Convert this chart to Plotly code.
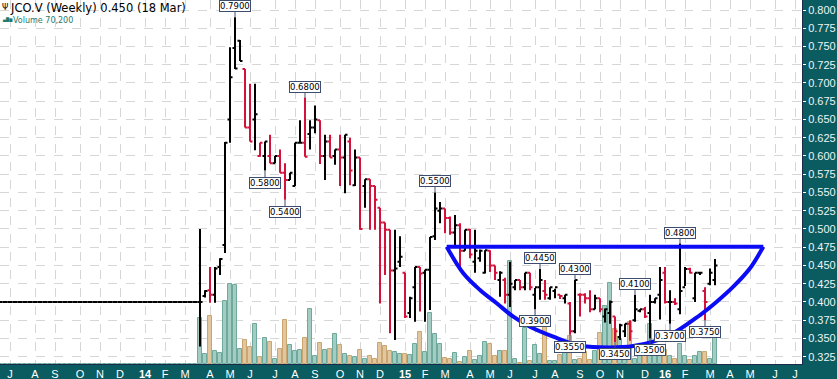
import datetime as dt
import plotly.graph_objects as go

# ---------------- data ----------------
# week index 0 = week of Monday 1 Jul 2013; pre-listing weeks are flat at 0.400
first_week = -2
flat_price = 0.400
n_flat = 40

opens = [0.400, 0.408, 0.416, 0.410, 0.448, 0.478, 0.650, 0.748, 0.758, 0.719,
         0.639, 0.650, 0.600, 0.600, 0.600, 0.590, 0.600, 0.577, 0.567, 0.559,
         0.618, 0.618, 0.630, 0.639, 0.649, 0.600, 0.620, 0.600, 0.609, 0.598,
         0.620, 0.560, 0.598, 0.559, 0.568, 0.559, 0.529, 0.509, 0.499, 0.443,
         0.455, 0.440, 0.385, 0.420, 0.448, 0.440, 0.444, 0.490, 0.525, 0.528,
         0.515, 0.495, 0.505, 0.470, 0.499, 0.455, 0.460, 0.440, 0.470, 0.450,
         0.430, 0.430, 0.410, 0.420, 0.430, 0.420, 0.440, 0.410, 0.420, 0.415,
         0.405, 0.415, 0.410, 0.405, 0.398, 0.360, 0.410, 0.410, 0.405, 0.390,
         0.405, 0.380, 0.385, 0.380, 0.352, 0.360, 0.370, 0.375, 0.388, 0.390,
         0.385, 0.400, 0.410, 0.440, 0.400, 0.400, 0.390, 0.420, 0.445, 0.405,
         0.440, 0.415, 0.425, 0.430]
highs = [0.500, 0.416, 0.448, 0.448, 0.460, 0.619, 0.749, 0.790, 0.759, 0.719,
         0.699, 0.699, 0.618, 0.620, 0.629, 0.600, 0.609, 0.590, 0.577, 0.618,
         0.649, 0.680, 0.649, 0.669, 0.649, 0.629, 0.629, 0.609, 0.629, 0.629,
         0.625, 0.609, 0.598, 0.568, 0.568, 0.559, 0.529, 0.509, 0.499, 0.499,
         0.490, 0.440, 0.407, 0.448, 0.448, 0.444, 0.489, 0.550, 0.537, 0.528,
         0.517, 0.519, 0.508, 0.499, 0.500, 0.499, 0.472, 0.471, 0.471, 0.450,
         0.442, 0.433, 0.455, 0.430, 0.430, 0.440, 0.440, 0.419, 0.445, 0.430,
         0.420, 0.418, 0.410, 0.410, 0.400, 0.430, 0.412, 0.412, 0.416, 0.410,
         0.405, 0.391, 0.402, 0.380, 0.370, 0.370, 0.375, 0.410, 0.390, 0.393,
         0.410, 0.405, 0.448, 0.448, 0.416, 0.405, 0.480, 0.448, 0.447, 0.440,
         0.440, 0.420, 0.446, 0.459]
lows = [0.339, 0.406, 0.399, 0.399, 0.437, 0.467, 0.618, 0.719, 0.730, 0.639,
        0.620, 0.608, 0.599, 0.580, 0.590, 0.590, 0.577, 0.540, 0.567, 0.559,
        0.618, 0.599, 0.609, 0.631, 0.589, 0.567, 0.598, 0.588, 0.559, 0.549,
        0.560, 0.559, 0.499, 0.529, 0.499, 0.499, 0.398, 0.437, 0.357, 0.348,
        0.448, 0.378, 0.378, 0.373, 0.387, 0.373, 0.389, 0.485, 0.508, 0.494,
        0.492, 0.476, 0.448, 0.470, 0.460, 0.440, 0.455, 0.439, 0.441, 0.430,
        0.407, 0.398, 0.393, 0.416, 0.416, 0.416, 0.416, 0.390, 0.403, 0.403,
        0.403, 0.405, 0.404, 0.398, 0.355, 0.357, 0.380, 0.398, 0.386, 0.390,
        0.386, 0.372, 0.370, 0.345, 0.348, 0.352, 0.347, 0.373, 0.386, 0.378,
        0.350, 0.398, 0.376, 0.398, 0.370, 0.396, 0.383, 0.422, 0.439, 0.400,
        0.437, 0.375, 0.423, 0.423]
closes = [0.400, 0.415, 0.410, 0.446, 0.459, 0.618, 0.708, 0.720, 0.730, 0.639,
          0.620, 0.657, 0.618, 0.620, 0.590, 0.600, 0.577, 0.567, 0.577, 0.618,
          0.618, 0.599, 0.639, 0.650, 0.600, 0.620, 0.598, 0.609, 0.598, 0.629,
          0.580, 0.598, 0.500, 0.568, 0.559, 0.540, 0.509, 0.499, 0.443, 0.446,
          0.462, 0.380, 0.405, 0.448, 0.439, 0.444, 0.489, 0.528, 0.528, 0.515,
          0.495, 0.505, 0.470, 0.499, 0.465, 0.470, 0.470, 0.471, 0.450, 0.440,
          0.440, 0.410, 0.425, 0.430, 0.420, 0.440, 0.420, 0.420, 0.430, 0.410,
          0.420, 0.420, 0.408, 0.410, 0.360, 0.430, 0.410, 0.405, 0.390, 0.405,
          0.390, 0.390, 0.400, 0.360, 0.368, 0.370, 0.360, 0.390, 0.390, 0.380,
          0.400, 0.405, 0.430, 0.400, 0.400, 0.398, 0.415, 0.445, 0.440, 0.440,
          0.440, 0.400, 0.440, 0.450]
volumes = [110600, 24200, 116200, 31500, 26600, 151700, 192900, 191200, 35600, 57400,
           40400, 96100, 16200, 62200, 52500, 12100, 35600, 105800, 46000, 31500,
           33200, 62200, 133100, 18600, 50100, 33200, 35600, 71900, 46000, 24200,
           18600, 17700, 33200, 12100, 19400, 12100, 50800, 44300, 31500, 28300,
           24900, 24200, 22500, 47700, 77400, 28300, 123400, 72600, 48400, 14500,
           12100, 26600, 4800, 16900, 30700, 10400, 18600, 52500, 48400, 18600,
           30700, 30700, 249300, 12100, 3600, 86400, 6500, 46000, 24200, 92000,
           7300, 7300, 21800, 31500, 67800, 9700, 12100, 28300, 9700, 30700,
           75000, 140400, 196000, 84700, 60500, 24200, 101600, 12100, 19400, 48400,
           96800, 29000, 19400, 33900, 19400, 12100, 48400, 19400, 9700, 19400,
           29000, 29000, 12100, 70200]

# annotated extremes: (bar index in trading arrays, 'H' or 'L')
marked = [(7, 'H'), (21, 'H'), (13, 'L'), (17, 'L'), (47, 'H'), (68, 'H'), (67, 'L'),
          (75, 'H'), (74, 'L'), (83, 'L'), (87, 'H'), (90, 'L'), (94, 'L'), (96, 'H'),
          (101, 'L')]

# hand-drawn cup (week index, price)
cup_x = [87.34, 90.66, 94.0, 97.34, 100.66, 104.0, 108.66, 113.34, 118.0, 124.66,
         131.34, 138.0, 141.34, 144.66, 148.0, 150.66]
cup_y = [0.4757, 0.4393, 0.4164, 0.3982, 0.3798, 0.3661, 0.3524, 0.3410, 0.3379, 0.3397,
         0.3524, 0.3821, 0.4003, 0.4209, 0.4461, 0.4757]
rim_x = [87.34, 150.66]
rim_y = [0.4757, 0.4757]

month_labels = ["J", "A", "S", "O", "N", "D", "14", "F", "M", "A", "M", "J",
                "J", "A", "S", "O", "N", "D", "15", "F", "M", "A", "M", "J",
                "J", "A", "S", "O", "N", "D", "16", "F", "M", "A", "M", "J", "J"]

# ---------------- build ----------------
O = [flat_price] * n_flat + opens
H = [flat_price] * n_flat + highs
L = [flat_price] * n_flat + lows
C = [flat_price] * n_flat + closes
V = [0] * n_flat + volumes
X = list(range(first_week, first_week + len(C)))
up = [True] + [C[k] >= C[k - 1] for k in range(1, len(C))]

base = dt.date(2013, 7, 1)
tickvals = []
yy, mm = 2013, 7
for _ in month_labels:
    d = dt.date(yy, mm, 1)
    while d.weekday() != 0:
        d += dt.timedelta(days=1)
    tickvals.append((d - base).days // 7)
    mm += 1
    if mm > 12:
        mm, yy = 1, yy + 1
ticktext = ["<b>%s</b>" % t if t.isdigit() else t for t in month_labels]

BLACK = "#000000"
RED = "#d3123c"
TEAL = "#0a5c61"
NAVY = "#1c2a4a"

fig = go.Figure()

fig.add_trace(go.Bar(
    x=X, y=V, yaxis="y", width=0.8,
    marker=dict(color=["#a3cdc3" if u else "#e2c6a0" for u in up],
                line=dict(color=["#6ea99b" if u else "#c9a66f" for u in up], width=1)),
    hoverinfo="skip", showlegend=False))

for flag, col in ((True, BLACK), (False, RED)):
    idx = [k for k in range(len(C)) if up[k] == flag]
    fig.add_trace(go.Ohlc(
        x=[X[k] for k in idx], open=[O[k] for k in idx], high=[H[k] for k in idx],
        low=[L[k] for k in idx], close=[C[k] for k in idx], yaxis="y2",
        increasing=dict(line=dict(color=col, width=2)),
        decreasing=dict(line=dict(color=col, width=2)),
        tickwidth=0.5, hoverinfo="skip", showlegend=False))

fig.add_trace(go.Scatter(x=cup_x, y=cup_y, yaxis="y2", mode="lines",
                         line=dict(color="#0b0bf5", width=4, shape="spline"),
                         hoverinfo="skip", showlegend=False))
fig.add_trace(go.Scatter(x=rim_x, y=rim_y, yaxis="y2", mode="lines",
                         line=dict(color="#0b0bf5", width=4),
                         hoverinfo="skip", showlegend=False))

annotations = []
for k, side in marked:
    val = highs[k] if side == 'H' else lows[k]
    annotations.append(dict(
        x=X[n_flat + k], y=val, xref="x", yref="y2", text="%.4f" % val,
        showarrow=True, arrowhead=0, arrowwidth=1, arrowcolor="#3d4d6e",
        ax=0, ay=-11 if side == 'H' else 12, standoff=0,
        font=dict(family="DejaVu Sans", size=8.5, color="#000000"),
        bgcolor="#ffffff", bordercolor="#3d4d6e", borderwidth=1, borderpad=0))

annotations.append(dict(x=0.0, y=1 - 7 / 364, xref="paper", yref="paper",
                        xanchor="left", yanchor="middle", showarrow=False,
                        text="Ψ", font=dict(family="DejaVu Sans", size=8, color="#000")))
annotations.append(dict(x=8 / 802, y=1 - 7.5 / 364, xref="paper", yref="paper",
                        xanchor="left", yanchor="middle", showarrow=False,
                        text="JCO.V (Weekly) %.3f (18 Mar)" % closes[-1],
                        font=dict(family="DejaVu Sans", size=11.5, color="#000")))
annotations.append(dict(x=0.0, y=1 - 19 / 364, xref="paper", yref="paper",
                        xanchor="left", yanchor="middle", showarrow=False,
                        text="▄█▆", font=dict(family="DejaVu Sans", size=4, color="#1e7a6c")))
annotations.append(dict(x=11 / 802, y=1 - 20 / 364, xref="paper", yref="paper",
                        xanchor="left", yanchor="middle", showarrow=False,
                        text="Volume {:,}".format(volumes[-1]),
                        font=dict(family="DejaVu Sans", size=8, color="#1e7a6c")))

fig.update_layout(
    width=837, height=379,
    margin=dict(l=0, r=35, t=0, b=15),
    paper_bgcolor=TEAL, plot_bgcolor="#ffffff",
    showlegend=False, bargap=0,
    xaxis=dict(range=[-2, 158.4], tickvals=tickvals, ticktext=ticktext,
               showgrid=True, gridcolor="#d6d6d6", griddash="dash", gridwidth=1,
               zeroline=False, ticks="", showline=True, linecolor=NAVY, linewidth=1,
               tickfont=dict(family="Liberation Sans", size=11, color="#ffffff"),
               rangeslider=dict(visible=False), fixedrange=True),
    yaxis=dict(range=[0, 881000], visible=False, fixedrange=True),
    yaxis2=dict(overlaying="y", side="right", range=[0.3150, 0.8137],
                tick0=0.3, dtick=0.025, tickformat=".3f",
                showgrid=True, gridcolor="#d6d6d6", griddash="dash", gridwidth=1,
                zeroline=False, ticks="outside", ticklen=3, tickcolor="#ffffff",
                showline=True, linecolor=NAVY, linewidth=1,
                tickfont=dict(family="Liberation Sans", size=11, color="#eef4f4"),
                fixedrange=True),
    annotations=annotations,
)

fig.write_html("out.html", config={"displayModeBar": False},
               post_script="document.body.style.margin='0';document.body.style.overflow='hidden';")
